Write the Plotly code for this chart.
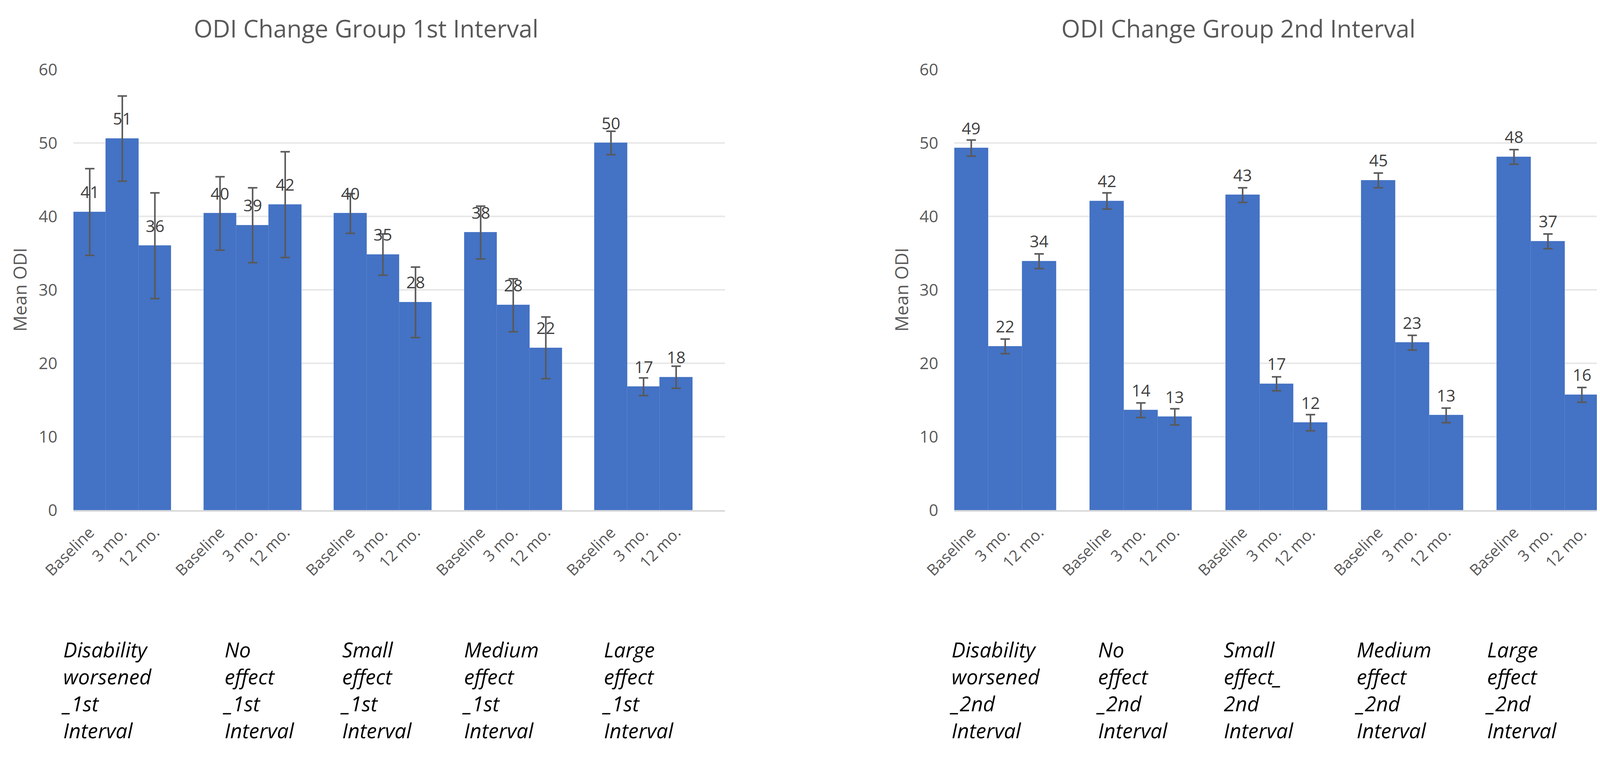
import plotly.graph_objects as go

# ---------------- data ----------------
timepoints = ["Baseline", "3 mo.", "12 mo."]

groups_1st = ["Disability<br>worsened<br>_1st<br>Interval", "No<br>effect<br>_1st<br>Interval",
              "Small<br>effect<br>_1st<br>Interval", "Medium<br>effect<br>_1st<br>Interval",
              "Large<br>effect<br>_1st<br>Interval"]
means_1st = [[40.6, 50.6, 36.0], [40.4, 38.8, 41.6], [40.4, 34.8, 28.3], [37.8, 27.9, 22.1], [50.0, 16.8, 18.1]]
errs_1st = [[5.9, 5.8, 7.2], [5.0, 5.1, 7.2], [2.7, 2.8, 4.8], [3.6, 3.6, 4.2], [1.6, 1.2, 1.5]]

groups_2nd = ["Disability<br>worsened<br>_2nd<br>Interval", "No<br>effect<br>_2nd<br>Interval",
              "Small<br>effect_<br>2nd<br>Interval", "Medium<br>effect<br>_2nd<br>Interval",
              "Large<br>effect<br>_2nd<br>Interval"]
means_2nd = [[49.3, 22.3, 33.9], [42.1, 13.6, 12.7], [42.9, 17.2, 11.9], [44.9, 22.8, 12.9], [48.1, 36.6, 15.7]]
errs_2nd = [[1.1, 1.0, 1.0], [1.1, 1.0, 1.1], [1.0, 0.95, 1.1], [1.0, 1.0, 1.0], [1.0, 1.0, 1.0]]

titles = ["ODI Change Group 1st Interval", "ODI Change Group 2nd Interval"]
y_title = "Mean ODI"

# ---------------- style / layout constants ----------------
WIN_W, WIN_H = 4159, 1938
OFF = 8                      # default page body margin
FW, FH = WIN_W - OFF, WIN_H - OFF
FONT = "Open Sans"
BAR = "#4472C4"
GRAY = "#595959"
SLOTS = 4  # 3 bars + 1 empty slot per group
label_shift_1 = [-0.30, 0.65, 0.26, 0.0, 0.30]
label_shift_2 = [-0.07, 0.25, 0.02, -0.13, -0.28]


def px_x(px):
    return (px - OFF) / FW


def px_y(py):
    return 1 - (py - OFF) / FH


fig = go.Figure()
annotations = []

panels = [
    dict(groups=groups_1st, means=means_1st, errs=errs_1st, xa="x", ya="y",
         left=188, right=1856, nslots=20, shifts=label_shift_1,
         title_x=937, ytitle_x=50),
    dict(groups=groups_2nd, means=means_2nd, errs=errs_2nd, xa="x2", ya="y2",
         left=2443, right=4093, nslots=19, shifts=label_shift_2,
         title_x=3170, ytitle_x=2307),
]

ydom = [px_y(1306), px_y(178)]

for p_i, p in enumerate(panels):
    slot_px = (p["right"] - p["left"]) / p["nslots"]
    xs, ys, es, tv, tt = [], [], [], [], []
    for g_i, (vals, errs) in enumerate(zip(p["means"], p["errs"])):
        for t_i, (v, e) in enumerate(zip(vals, errs)):
            pos = g_i * SLOTS + t_i
            xs.append(pos); ys.append(v); es.append(e)
            tv.append(pos); tt.append(timepoints[t_i])
            annotations.append(dict(x=pos, y=v, xref=p["xa"], yref=p["ya"], text=f"{v:.0f}",
                                    showarrow=False, yshift=52,
                                    font=dict(family=FONT, size=42, color="#404040")))
        gx = p["left"] + (g_i * SLOTS + p["shifts"][g_i]) * slot_px - 8
        annotations.append(dict(x=px_x(gx), y=px_y(1624),
                                xref="paper", yref="paper", text=p["groups"][g_i],
                                showarrow=False, xanchor="left", yanchor="top", align="left",
                                font=dict(family=FONT, size=53, color="#000000", style="italic")))
    fig.add_trace(go.Bar(
        x=xs, y=ys, xaxis=p["xa"], yaxis=p["ya"], showlegend=False,
        marker=dict(color=BAR, line=dict(color="#5F87CF", width=1)),
        error_y=dict(type="data", array=es, color=GRAY, thickness=4, width=12),
    ))
    sfx = "" if p_i == 0 else "2"
    fig.update_layout(**{
        "xaxis" + sfx: dict(domain=[px_x(p["left"]), px_x(p["right"])],
                            range=[-0.5, p["nslots"] - 0.5], anchor="y" + sfx,
                            tickmode="array", tickvals=tv, ticktext=tt, tickangle=-45,
                            tickfont=dict(family=FONT, size=40, color=GRAY),
                            showgrid=False, zeroline=False, showline=True,
                            linecolor="#D9D9D9", linewidth=4, ticks="",
                            ticklabelstandoff=14, automargin=False, fixedrange=True),
        "yaxis" + sfx: dict(domain=ydom, range=[0, 60], dtick=10, anchor="x" + sfx,
                            tickfont=dict(family=FONT, size=42, color=GRAY),
                            showgrid=True, gridcolor="#E8E8E8", gridwidth=4,
                            zeroline=False, showline=False, ticks="",
                            ticklabelstandoff=40, automargin=False),
    })
    annotations.append(dict(x=px_x(p["title_x"]), y=px_y(72), xref="paper", yref="paper",
                            text=titles[p_i], showarrow=False, xanchor="center", yanchor="middle",
                            font=dict(family=FONT, size=62, color=GRAY)))
    annotations.append(dict(x=px_x(p["ytitle_x"]), y=px_y(742), xref="paper", yref="paper",
                            text=y_title, showarrow=False, textangle=-90,
                            xanchor="center", yanchor="middle",
                            font=dict(family=FONT, size=46, color=GRAY)))

fig.update_layout(
    width=FW, height=FH, margin=dict(l=0, r=0, t=0, b=0),
    paper_bgcolor="white", plot_bgcolor="white", bargap=0,
    annotations=annotations, font=dict(family=FONT),
)

fig.write_html("out.html")
